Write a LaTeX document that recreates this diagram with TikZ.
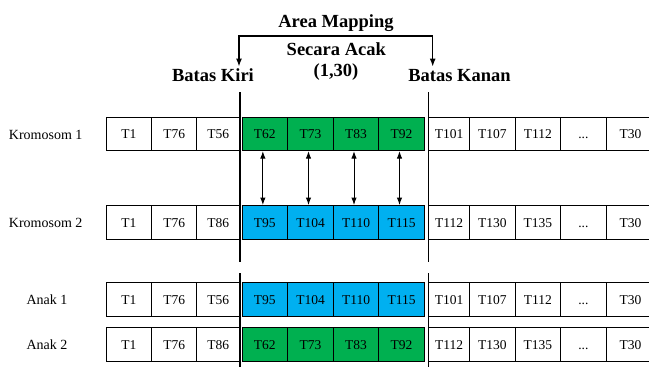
\documentclass[tikz,border=0pt]{standalone}
\usepackage{fontspec}
\setmainfont{Liberation Serif}
\usetikzlibrary{arrows.meta}
\definecolor{cgreen}{HTML}{00B050}
\definecolor{cblue}{HTML}{00B0F0}
\begin{document}
\begin{tikzpicture}[x=1pt,y=-1pt,
  cell/.style={draw=black, line width=0.8pt, minimum height=33.5pt, inner sep=0pt, text height=9.6pt, text depth=0pt, font=\fontsize{13.5}{15}\selectfont},
  gcell/.style={cell, fill=cgreen},
  bcell/.style={cell, fill=cblue},
  lbl/.style={font=\fontsize{14}{16}\selectfont, anchor=base, inner sep=0pt},
  head/.style={font=\fontsize{18.5}{20}\selectfont\bfseries, anchor=base, inner sep=0pt},
  bound/.style={line width=1.2pt},
  bracket/.style={line width=1.1pt, {Latex[length=8pt,width=6pt]}-{Latex[length=8pt,width=6pt]}},
  arr/.style={line width=1pt, {Latex[length=7.5pt,width=5.5pt]}-{Latex[length=7.5pt,width=5.5pt]}},
]
\useasboundingbox (0,0) rectangle (649,367);

% headings
\node[head] (am) at (336,27) {Area Mapping};
\node[head] (sa) at (336.3,55.7) {Secara Acak};
\node[head] (rg) at (336,76.5) {(1,30)};
\node[head] (bk) at (213,81) {Batas Kiri};
\node[head] (bn) at (459.5,81) {Batas Kanan};

% bracket
\coordinate (tipL) at (239,66.5);
\coordinate (brL) at (239,36);
\coordinate (brR) at (432.7,36);
\coordinate (tipR) at (432.7,66.5);
\draw[bracket] (tipL) -- (brL) -- (brR) -- (tipR);

% row labels
\node[lbl] (l1) at (45.7,139.3) {Kromosom 1};
\node[lbl] (l2) at (45.7,227) {Kromosom 2};
\node[lbl] (l3) at (47,304.3) {Anak 1};
\node[lbl] (l4) at (47,349.8) {Anak 2};

% row 1: Kromosom 1
\foreach \i/\a/\b/\t in {1/106/151.7/T1, 2/151.7/196.7/T76, 3/196.7/240/T56,
  8/428.3/469.7/T101, 9/469.7/515/T107, 10/515/560.7/T112, 12/606/655/T30}
  \node[cell, minimum width=\b pt-\a pt] (ka-\i) at ({(\a+\b)/2},134) {\t};
\node[cell, minimum width=45.3pt] (ka-11) at (583.35,134) {...};
\foreach \i/\a/\b/\t in {4/242/287.7/T62, 5/287.7/333.3/T73, 6/333.3/378.7/T83, 7/378.7/424.3/T92}
  \node[gcell, minimum width=\b pt-\a pt] (ka-\i) at ({(\a+\b)/2},134) {\t};

% row 2: Kromosom 2
\foreach \i/\a/\b/\t in {1/106/151.7/T1, 2/151.7/196.7/T76, 3/196.7/240/T86,
  8/428.3/469.7/T112, 9/469.7/515/T130, 10/515/560.7/T135, 12/606/655/T30}
  \node[cell, minimum width=\b pt-\a pt] (kb-\i) at ({(\a+\b)/2},222.2) {\t};
\node[cell, minimum width=45.3pt] (kb-11) at (583.35,222.2) {...};
\foreach \i/\a/\b/\t in {4/242/287.7/T95, 5/287.7/333.3/T104, 6/333.3/378.7/T110, 7/378.7/424.3/T115}
  \node[bcell, minimum width=\b pt-\a pt] (kb-\i) at ({(\a+\b)/2},222.2) {\t};

% row 3: Anak 1
\foreach \i/\a/\b/\t in {1/106/151.7/T1, 2/151.7/196.7/T76, 3/196.7/240/T56,
  8/428.3/469.7/T101, 9/469.7/515/T107, 10/515/560.7/T112, 12/606/655/T30}
  \node[cell, minimum width=\b pt-\a pt] (aa-\i) at ({(\a+\b)/2},299.2) {\t};
\node[cell, minimum width=45.3pt] (aa-11) at (583.35,299.2) {...};
\foreach \i/\a/\b/\t in {4/242/287.7/T95, 5/287.7/333.3/T104, 6/333.3/378.7/T110, 7/378.7/424.3/T115}
  \node[bcell, minimum width=\b pt-\a pt] (aa-\i) at ({(\a+\b)/2},299.2) {\t};

% row 4: Anak 2
\foreach \i/\a/\b/\t in {1/106/151.7/T1, 2/151.7/196.7/T76, 3/196.7/240/T86,
  8/428.3/469.7/T112, 9/469.7/515/T130, 10/515/560.7/T135, 12/606/655/T30}
  \node[cell, minimum width=\b pt-\a pt] (ab-\i) at ({(\a+\b)/2},344.3) {\t};
\node[cell, minimum width=45.3pt] (ab-11) at (583.35,344.3) {...};
\foreach \i/\a/\b/\t in {4/242/287.7/T62, 5/287.7/333.3/T73, 6/333.3/378.7/T83, 7/378.7/424.3/T92}
  \node[gcell, minimum width=\b pt-\a pt] (ab-\i) at ({(\a+\b)/2},344.3) {\t};

% exchange arrows
\foreach \i in {4,5,6,7}
  \draw[arr] ([xshift=-2pt]ka-\i.south) -- ([xshift=-2pt]kb-\i.north);

% boundary lines
\coordinate (lA) at (240,92.3);
\coordinate (lB) at (240,262.3);
\coordinate (lC) at (240,273.3);
\coordinate (lD) at (240,367);
\coordinate (rA) at (428.3,92.3);
\coordinate (rB) at (428.3,262.3);
\coordinate (rC) at (428.3,273.3);
\coordinate (rD) at (428.3,367);
\draw[bound] (lA) -- (lB) (lC) -- (lD);
\draw[bound] (rA) -- (rB) (rC) -- (rD);
\end{tikzpicture}
\end{document}
